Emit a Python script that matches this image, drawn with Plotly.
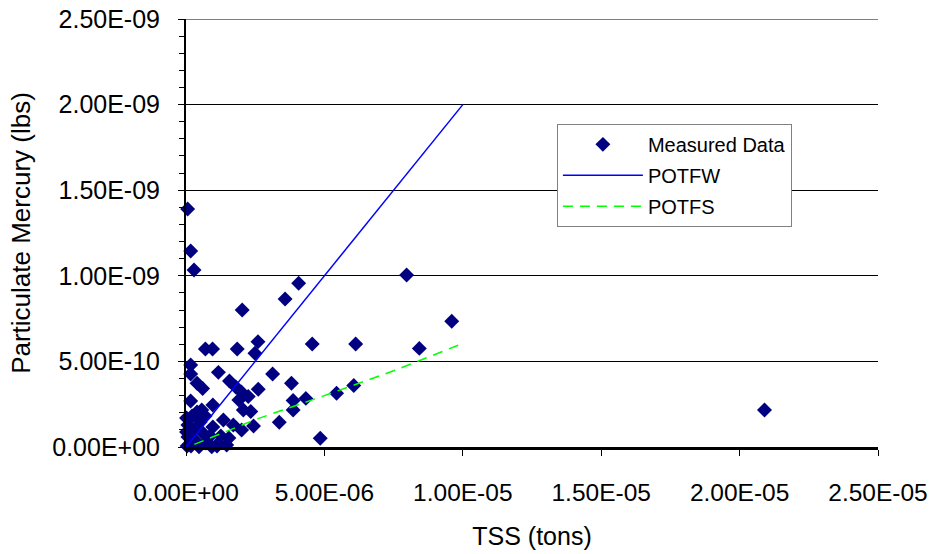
import plotly.graph_objects as go

# Measured data: TSS (tons) vs Particulate Mercury (lbs)
tss = [
    0.06e-6, 0.17e-6, 0.29e-6, 4.07e-6, 3.58e-6, 2.03e-6, 0.70e-6, 0.96e-6, 1.85e-6, 2.60e-6,
    2.49e-6, 4.56e-6, 6.13e-6, 7.97e-6, 9.60e-6, 8.43e-6, 0.17e-6, 0.17e-6, 0.40e-6, 0.60e-6,
    1.17e-6, 1.57e-6, 1.80e-6, 2.00e-6, 2.25e-6, 2.61e-6, 3.13e-6, 3.81e-6, 3.87e-6, 3.87e-6,
    4.33e-6, 5.44e-6, 6.06e-6, 0.17e-6, 0.97e-6, 1.91e-6, 2.07e-6, 2.34e-6, 2.44e-6, 3.37e-6,
    4.85e-6, 0.57e-6, 1.35e-6, 1.71e-6, 2.01e-6, 1.47e-6, 0.93e-6, 1.17e-6, 20.9e-6,
    0.07e-6, 0.07e-6, 0.04e-6, 0.22e-6, 0.29e-6, 0.36e-6, 0.47e-6, 0.51e-6, 0.61e-6, 0.72e-6,
    0.87e-6, 0.97e-6, 0.40e-6, 0.69e-6, 1.26e-6, 1.55e-6, 0.02e-6, 0.18e-6, 0.02e-6, 1.12e-6,
]
mercury = [
    13.9e-10, 11.45e-10, 10.34e-10, 9.56e-10, 8.64e-10, 8.0e-10, 5.72e-10, 5.72e-10, 5.72e-10, 6.15e-10,
    5.47e-10, 6.02e-10, 6.02e-10, 10.05e-10, 7.34e-10, 5.76e-10, 4.79e-10, 4.26e-10, 3.72e-10, 3.42e-10,
    4.36e-10, 3.86e-10, 3.50e-10, 3.21e-10, 2.95e-10, 3.37e-10, 4.26e-10, 3.72e-10, 2.72e-10, 2.16e-10,
    2.84e-10, 3.14e-10, 3.59e-10, 2.69e-10, 2.45e-10, 2.75e-10, 2.16e-10, 2.07e-10, 1.23e-10, 1.44e-10,
    0.51e-10, 2.16e-10, 1.58e-10, 1.28e-10, 0.99e-10, 0.12e-10, 0.02e-10, 0.22e-10, 2.16e-10,
    1.29e-10, 0.58e-10, 0.06e-10, 1.81e-10, 0.99e-10, 0.35e-10, 0.01e-10, 1.46e-10, 0.82e-10, 0.23e-10,
    0.64e-10, 1.17e-10, 2.04e-10, 1.81e-10, 0.64e-10, 0.53e-10, 0.88e-10, 0.06e-10, 1.69e-10, 0.06e-10,
]

# Model curves
potfw_x = [0.0, 1.0e-5]
potfw_y = [0.0, 2.0e-9]
potfs_x = [0.3e-6, 1.0e-6, 2.5e-6, 5.0e-6, 7.5e-6, 10.0e-6]
potfs_y = [0.15e-10, 0.6e-10, 1.6e-10, 3.0e-10, 4.45e-10, 6.05e-10]

# Axis ticks
x_tickvals = [0, 5e-6, 1e-5, 1.5e-5, 2e-5, 2.5e-5]
x_ticktext = ["0.00E+00", "5.00E-06", "1.00E-05", "1.50E-05", "2.00E-05", "2.50E-05"]
y_tickvals = [0, 5e-10, 1e-9, 1.5e-9, 2e-9, 2.5e-9]
y_ticktext = ["0.00E+00", "5.00E-10", "1.00E-09", "1.50E-09", "2.00E-09", "2.50E-09"]
y_minorvals = [i * 1e-10 for i in range(26)]
y_max = 2.5e-9

FONT = "Liberation Sans, Arial, sans-serif"

fig = go.Figure()
fig.add_trace(go.Scatter(
    x=tss, y=mercury, mode="markers", name="Measured Data",
    marker=dict(symbol="diamond", size=11.5, color="#000080", line=dict(width=0)),
    cliponaxis=False, legendgroup="a",
))
fig.add_trace(go.Scatter(
    x=potfw_x, y=potfw_y, mode="lines", name="POTFW",
    line=dict(color="#0000FF", width=1.5), legendgroup="b",
))
fig.add_trace(go.Scatter(
    x=potfs_x, y=potfs_y, mode="lines", name="POTFS",
    line=dict(color="#00FF00", width=1.5, dash="10px,7px"), legendgroup="c",
))

# top gridline (Plotly drops gridlines at the range edge)
fig.add_shape(type="line", xref="paper", yref="y", x0=0, x1=1, y0=y_max, y1=y_max,
              line=dict(color="black", width=1), layer="below")

fig.update_layout(
    width=933, height=554,
    margin=dict(l=186, r=55, t=19, b=107, autoexpand=False),
    paper_bgcolor="white", plot_bgcolor="white",
    font=dict(family=FONT, color="black"),
    legend=dict(
        x=0.536, y=0.755, xanchor="left", yanchor="top",
        bgcolor="white", bordercolor="#808080", borderwidth=1,
        font=dict(size=20, family=FONT, color="black"),
        itemwidth=80, tracegroupgap=2,
    ),
    xaxis=dict(
        range=[0, 2.5e-5], tickmode="array", tickvals=x_tickvals, ticktext=x_ticktext,
        ticks="outside", ticklen=6, tickcolor="black", tickwidth=1,
        showline=True, linecolor="black", linewidth=2.5,
        showgrid=False, zeroline=False, automargin=False,
        tickfont=dict(size=24.5, family=FONT),
        ticklabelstandoff=16, ticklabeloverflow="allow",
        title=dict(text="TSS (tons)", font=dict(size=25, family=FONT), standoff=23),
    ),
    yaxis=dict(
        range=[0, y_max], tickmode="array", tickvals=y_tickvals, ticktext=y_ticktext,
        ticks="outside", ticklen=6, tickcolor="black", tickwidth=1,
        minor=dict(tickmode="array", tickvals=y_minorvals, ticks="outside", ticklen=5,
                   tickcolor="black", showgrid=False),
        showline=True, linecolor="black", linewidth=2,
        showgrid=True, gridcolor="black", gridwidth=1,
        zeroline=False, automargin=False,
        tickfont=dict(size=25, family=FONT),
        ticklabelstandoff=13, ticklabeloverflow="allow",
        title=dict(text="Particulate Mercury (lbs)", font=dict(size=26, family=FONT), standoff=14),
    ),
)

fig.write_html(
    "out.html",
    config={"displayModeBar": False},
    post_script="document.body.style.margin='0';document.body.style.overflow='hidden';",
)
